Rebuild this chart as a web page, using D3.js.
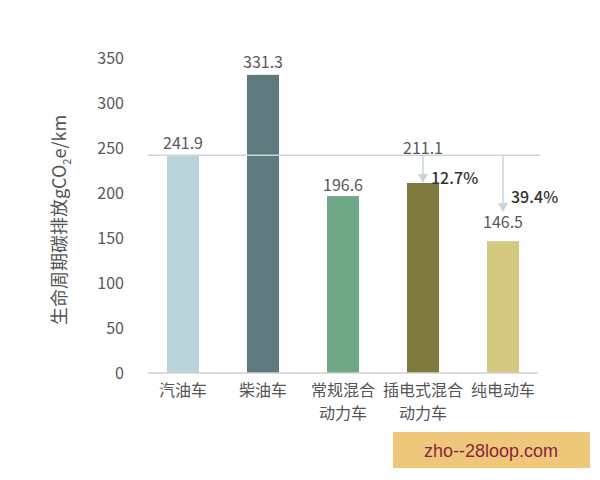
<!DOCTYPE html>
<html>
<head>
<meta charset="utf-8">
<script src="https://cdn.jsdelivr.net/npm/d3@7"></script>
<style>
  body { margin: 0; background: #fff; }
  text { font-family: "Noto Sans CJK SC", "Noto Sans", sans-serif; }
</style>
</head>
<body>
<div id="chart"></div>
<script>
// chart data
const categories = ['汽油车', '柴油车', '常规混合\n动力车', '插电式混合\n动力车', '纯电动车'];
const emissions = [241.9, 331.3, 196.6, 211.1, 146.5];
const barColors = ['#b9d3da', '#5f7a7e', '#6fa886', '#7f7a3e', '#d5c982'];
const yTicks = [0, 50, 100, 150, 200, 250, 300, 350];
// reductions vs gasoline, shown on plug-in hybrid and battery EV
const reductions = [{ idx: 3, label: '12.7%', end: 211 }, { idx: 4, label: '39.4%', end: 179 }];

const width = 600, height = 480;
const svg = d3.select('#chart').append('svg')
    .attr('width', width)
    .attr('height', height);

// scales
const x = d3.scaleBand()
    .domain(categories)
    .range([143, 543])
    .paddingInner(0.6)
    .paddingOuter(0.3);
const y = d3.scaleLinear()
    .domain([0, 350])
    .range([373, 58]);

// y axis, labels only
const yAxis = svg.append('g')
    .attr('transform', 'translate(124,0)')
    .call(d3.axisLeft(y).tickValues(yTicks).tickSize(0).tickPadding(0))
    .call(g => g.select('.domain').remove());
yAxis.selectAll('text')
    .attr('fill', '#595959')
    .style('font-size', '16px');

// y title
const title = svg.append('text')
    .attr('transform', 'translate(66,220) rotate(-90)')
    .attr('text-anchor', 'middle')
    .attr('fill', '#555')
    .style('font-size', '18px');
title.append('tspan').text('生命周期碳排放gCO');
title.append('tspan').text('2').attr('dy', 5).style('font-size', '11px');
title.append('tspan').text('e/km').attr('dy', -5);

// bars
svg.selectAll('rect.bar')
    .data(emissions)
    .join('rect')
    .attr('class', 'bar')
    .attr('x', (d, i) => x(categories[i]))
    .attr('width', x.bandwidth())
    .attr('y', d => y(d))
    .attr('height', d => y(0) - y(d))
    .attr('fill', (d, i) => barColors[i]);

// baseline
svg.append('line')
    .attr('x1', 148).attr('x2', 538)
    .attr('y1', y(0)).attr('y2', y(0))
    .attr('stroke', '#d0d0d0')
    .attr('stroke-width', 1.5);

// reference line at the gasoline value
svg.append('line')
    .attr('x1', 148).attr('x2', 540)
    .attr('y1', y(emissions[0])).attr('y2', y(emissions[0]))
    .attr('stroke', '#c9d7dc')
    .attr('stroke-width', 1.5);

// value labels
const labelOffset = [6, 7, 5, 29, 13];
svg.selectAll('text.value')
    .data(emissions)
    .join('text')
    .attr('class', 'value')
    .attr('x', (d, i) => x(categories[i]) + x.bandwidth() / 2)
    .attr('y', (d, i) => y(d) - labelOffset[i])
    .attr('text-anchor', 'middle')
    .attr('fill', '#595959')
    .style('font-size', '16px')
    .text(d => d.toFixed(1));

// reduction arrows
const arrows = svg.append('g');
const pctShift = [1, -9];
reductions.forEach((r, k) => {
    const cx = x(categories[r.idx]) + x.bandwidth() / 2;
    const y0 = y(emissions[0]);
    const y1 = y(r.end);
    arrows.append('line')
        .attr('x1', cx).attr('x2', cx)
        .attr('y1', y0).attr('y2', y1 - 6)
        .attr('stroke', '#c9d7dc')
        .attr('stroke-width', 1.5);
    arrows.append('path')
        .attr('d', `M${cx - 5},${y1 - 9} L${cx + 5},${y1 - 9} L${cx},${y1} Z`)
        .attr('fill', '#c9d7dc');
    arrows.append('text')
        .attr('x', cx + 8)
        .attr('y', y1 + pctShift[k])
        .attr('fill', '#333')
        .style('font-size', '16px')
        .style('font-weight', 500)
        .text(r.label);
});

// x labels, two lines where needed
svg.selectAll('text.cat')
    .data(categories)
    .join('text')
    .attr('class', 'cat')
    .attr('text-anchor', 'middle')
    .attr('fill', '#555')
    .style('font-size', '16px')
    .each(function (d) {
        const cx = x(d) + x.bandwidth() / 2;
        d.split('\n').forEach((line, j) => {
            d3.select(this).append('tspan')
                .attr('x', cx)
                .attr('y', 396 + j * 23)
                .text(line);
        });
    });

// watermark
svg.append('rect')
    .attr('x', 393).attr('y', 432)
    .attr('width', 197).attr('height', 36)
    .attr('fill', '#efc77b');
svg.append('text')
    .attr('x', 491).attr('y', 457)
    .attr('text-anchor', 'middle')
    .attr('fill', '#8b1f3f')
    .style('font-family', 'Arial, "Liberation Sans", sans-serif')
    .style('font-size', '18px')
    .text('zho--28loop.com');
</script>
</body>
</html>
